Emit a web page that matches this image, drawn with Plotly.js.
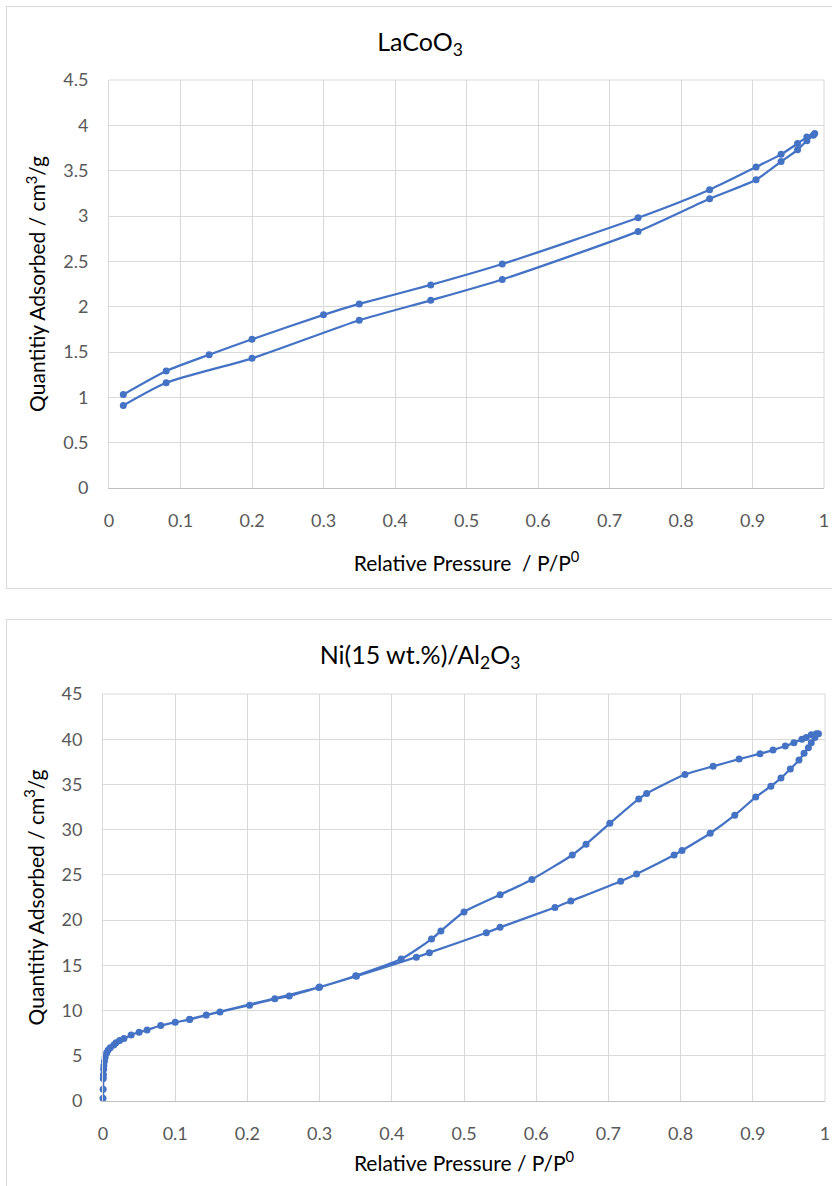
<!DOCTYPE html>
<html>
<head>
<meta charset="utf-8">
<script src="https://cdn.plot.ly/plotly-3.0.1.min.js"></script>
<style>
  html, body { margin: 0; padding: 0; background: #ffffff; width: 832px; height: 1186px; overflow: hidden; }
  .box { position: absolute; border: 1px solid #d9d9d9; box-sizing: border-box; }
  .plot { position: absolute; left: 0; width: 832px; }
</style>
</head>
<body>
<div class="box" style="left:6px; top:6px; width:830px; height:583px;"></div>
<div class="box" style="left:6px; top:619px; width:830px; height:600px;"></div>
<div id="chart1" class="plot" style="top:0px; height:594px;"></div>
<div id="chart2" class="plot" style="top:600px; height:586px;"></div>
<script>
// ---- LaCoO3 isotherm ----
const lacoAdsX = [0.02, 0.08, 0.2, 0.35, 0.45, 0.55, 0.74, 0.84, 0.905, 0.94, 0.963, 0.976, 0.985];
const lacoAdsY = [0.91, 1.16, 1.43, 1.85, 2.07, 2.30, 2.83, 3.19, 3.40, 3.60, 3.73, 3.83, 3.89];
const lacoDesX = [0.987, 0.976, 0.963, 0.94, 0.905, 0.84, 0.74, 0.55, 0.45, 0.35, 0.3, 0.2, 0.14, 0.08, 0.02];
const lacoDesY = [3.91, 3.87, 3.80, 3.68, 3.54, 3.29, 2.98, 2.47, 2.24, 2.03, 1.91, 1.64, 1.47, 1.29, 1.03];

// ---- Ni(15 wt.%)/Al2O3 isotherm ----
const niAdsX = [0, 0.0002, 0.0004, 0.0006, 0.0009, 0.0012, 0.002, 0.003, 0.005, 0.007, 0.01, 0.015, 0.018, 0.023, 0.029,
  0.039, 0.05, 0.061, 0.08, 0.1, 0.12, 0.143, 0.162, 0.203, 0.238, 0.258, 0.299, 0.351, 0.434, 0.452, 0.531, 0.55,
  0.626, 0.648, 0.717, 0.739, 0.791, 0.802, 0.841, 0.875, 0.904, 0.925, 0.939, 0.952, 0.964, 0.971, 0.977, 0.981, 0.986, 0.991];
const niAdsY = [0.3, 1.3, 2.5, 2.9, 3.5, 3.9, 4.4, 4.85, 5.3, 5.6, 5.9, 6.2, 6.45, 6.7, 6.9,
  7.3, 7.6, 7.85, 8.35, 8.7, 9.0, 9.5, 9.85, 10.6, 11.3, 11.6, 12.55, 13.8, 15.9, 16.4, 18.6, 19.2,
  21.4, 22.1, 24.3, 25.1, 27.2, 27.7, 29.6, 31.6, 33.6, 34.8, 35.7, 36.7, 37.7, 38.45, 39.06, 39.6, 40.2, 40.6];
const niDesX = [0.988, 0.981, 0.974, 0.968, 0.957, 0.945, 0.928, 0.91, 0.881, 0.845, 0.806, 0.753, 0.742, 0.702, 0.669,
  0.65, 0.594, 0.55, 0.5, 0.468, 0.455, 0.413, 0.35, 0.3, 0.12];
const niDesY = [40.6, 40.5, 40.2, 40.0, 39.6, 39.25, 38.8, 38.4, 37.8, 37.0, 36.1, 34.0, 33.4, 30.7, 28.4,
  27.2, 24.5, 22.8, 20.9, 18.8, 17.9, 15.7, 13.85, 12.6, 9.05];

const xTitle1 = 'Relative Pressure  / P/P<sup>0</sup>';
const xTitle2 = 'Relative Pressure / P/P<sup>0</sup>';
const yTitle = 'Quantitiy Adsorbed / cm<sup>3</sup>/g';
const title1 = 'LaCoO<sub>3</sub>';
const title2 = 'Ni(15 wt.%)/Al<sub>2</sub>O<sub>3</sub>';

const FONT = 'Lato, "Open Sans", sans-serif';
const BLUE = '#4472C4';

function trace(xs, ys) {
  return {
    x: xs, y: ys, type: 'scatter', mode: 'lines+markers',
    line: {color: BLUE, width: 2.25, shape: 'spline', smoothing: 0.6},
    marker: {color: BLUE, size: 7},
    hoverinfo: 'skip', showlegend: false, cliponaxis: false
  };
}

function layout(h, mt, mb, ml, mr, titleText, titleY, yRange, yDtick, xTitle, xStand, yStand) {
  return {
    width: 832, height: h,
    margin: {l: ml, r: mr, t: mt, b: mb, pad: 0},
    paper_bgcolor: 'rgba(0,0,0,0)', plot_bgcolor: 'rgba(0,0,0,0)',
    font: {family: FONT, color: '#595959', size: 18},
    showlegend: false,
    title: {text: titleText, x: 420/832, xref: 'container', xanchor: 'center',
            y: titleY, yref: 'container', yanchor: 'middle',
            font: {family: FONT, size: 25, color: '#000000'}},
    xaxis: {
      range: [0, 1], dtick: 0.1, tick0: 0, showgrid: true, gridcolor: '#d9d9d9', gridwidth: 1,
      zeroline: false, showline: true, linecolor: '#bfbfbf', linewidth: 1, mirror: false,
      ticks: 'outside', ticklen: 16, tickcolor: 'rgba(0,0,0,0)',
      tickfont: {family: FONT, size: 18, color: '#595959'},
      title: {text: xTitle, standoff: xStand, font: {family: FONT, size: 21, color: '#000000'}},
      automargin: false, fixedrange: true
    },
    yaxis: {
      range: yRange, dtick: yDtick, tick0: 0, showgrid: true, gridcolor: '#d9d9d9', gridwidth: 1,
      zeroline: false, showline: true, linecolor: '#d9d9d9', linewidth: 1,
      ticks: 'outside', ticklen: 16, tickcolor: 'rgba(0,0,0,0)',
      tickfont: {family: FONT, size: 18, color: '#595959'},
      title: {text: yTitle, standoff: yStand, font: {family: FONT, size: 21, color: '#000000'}},
      automargin: false, fixedrange: true
    },
    shapes: [
      {type: 'line', xref: 'paper', yref: 'paper', x0: 0, x1: 1, y0: 1, y1: 1, line: {color: '#d9d9d9', width: 1}},
      {type: 'line', xref: 'paper', yref: 'paper', x0: 1, x1: 1, y0: 0, y1: 1, line: {color: '#d9d9d9', width: 1}}
    ]
  };
}

const config = {displayModeBar: false, staticPlot: true};

Plotly.newPlot('chart1',
  [trace(lacoAdsX.concat(lacoDesX), lacoAdsY.concat(lacoDesY))],
  layout(594, 80, 106, 109, 8, title1, 1 - 42/594, [0, 4.5], 0.5, xTitle1, 26, 11),
  config);

Plotly.newPlot('chart2',
  [trace(niAdsX.concat(niDesX), niAdsY.concat(niDesY))],
  layout(586, 93.5, 84.5, 103.3, 7, title2, 1 - 55/586, [0, 45], 5, xTitle2, 13, 11),
  config);
</script>
</body>
</html>
